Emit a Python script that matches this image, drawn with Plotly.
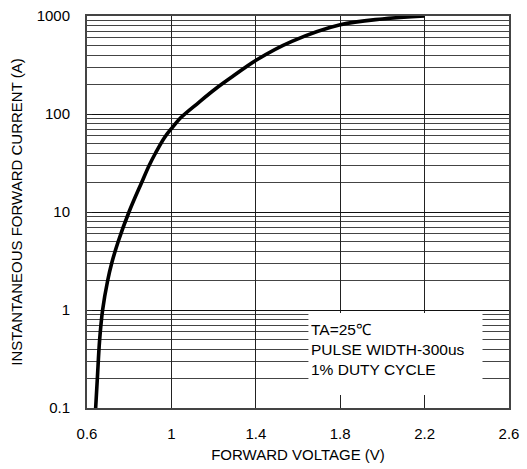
import plotly.graph_objects as go

# Forward voltage (V) vs instantaneous forward current (A)
voltage = [0.641, 0.649, 0.660, 0.674, 0.698, 0.717, 0.748, 0.799, 0.859, 0.895,
           0.925, 0.966, 1.0, 1.045, 1.129, 1.208, 1.288, 1.403, 1.571, 1.8, 2.0, 2.2]
current = [0.1, 0.2, 0.5, 1, 2, 3, 5, 10, 20, 30,
           40, 57, 71, 92, 131, 180, 240, 355, 550, 813, 933, 1000]

x_ticks = [0.6, 1.0, 1.4, 1.8, 2.2, 2.6]
x_labels = ["0.6", "1", "1.4", "1.8", "2.2", "2.6"]
y_ticks = [0.1, 1, 10, 100, 1000]
y_labels = ["0.1", "1", "10", "100", "1000"]

note_lines = ["TA=25℃", "PULSE WIDTH-300us", "1% DUTY CYCLE"]

FONT = "Liberation Sans, Arial, sans-serif"

fig = go.Figure()
fig.add_trace(go.Scatter(
    x=voltage, y=current, mode="lines",
    line=dict(color="black", width=3.6, shape="spline", smoothing=1.0),
    hoverinfo="skip", showlegend=False,
))

fig.update_layout(
    width=527, height=469,
    margin=dict(l=87, r=18, t=16, b=61),
    paper_bgcolor="white", plot_bgcolor="white",
    font=dict(family=FONT, size=15, color="black"),
    showlegend=False,
)

fig.update_xaxes(
    range=[0.6, 2.6], automargin=False,
    tickmode="array", tickvals=x_ticks, ticktext=x_labels,
    showgrid=True, gridcolor="#222", gridwidth=1,
    ticks="inside", ticklen=5, tickcolor="#222",
    showline=True, linecolor="#444", linewidth=2, mirror=True,
    zeroline=False, ticklabelstandoff=11,
    title=dict(text="FORWARD VOLTAGE (V)", standoff=8, font=dict(size=15)),
    tickfont=dict(size=15),
)

fig.update_yaxes(
    type="log", range=[-1, 3], automargin=False,
    tickmode="array", tickvals=y_ticks, ticktext=y_labels,
    showgrid=True, gridcolor="#111", gridwidth=1,
    ticks="inside", ticklen=5, tickcolor="#222",
    minor=dict(dtick="D1", showgrid=True, gridcolor="#444", gridwidth=1, ticks=""),
    showline=True, linecolor="#444", linewidth=2, mirror=True,
    zeroline=False, ticklabelstandoff=12,
    title=dict(text="INSTANTANEOUS FORWARD CURRENT (A)", standoff=10, font=dict(size=15)),
    tickfont=dict(size=15),
)

# white box behind the conditions note
fig.add_shape(
    type="rect", xref="x domain", yref="y domain",
    x0=0.5247, x1=0.9372, y0=0.0331, y1=0.2422,
    fillcolor="white", line=dict(width=0), layer="above",
)

fig.add_annotation(
    xref="x domain", yref="y domain", x=0.527, y=0.150,
    xanchor="left", yanchor="middle", align="left", showarrow=False,
    text="<br>".join(note_lines),
    font=dict(family=FONT, size=15.5, color="black"),
)

fig.write_html("out.html", config={"displayModeBar": False})

# remove the browser's default page margin so the figure fills the window
with open("out.html", encoding="utf-8") as f:
    html = f.read()
html = html.replace("<body>", '<body style="margin:0;padding:0;">', 1)
with open("out.html", "w", encoding="utf-8") as f:
    f.write(html)
